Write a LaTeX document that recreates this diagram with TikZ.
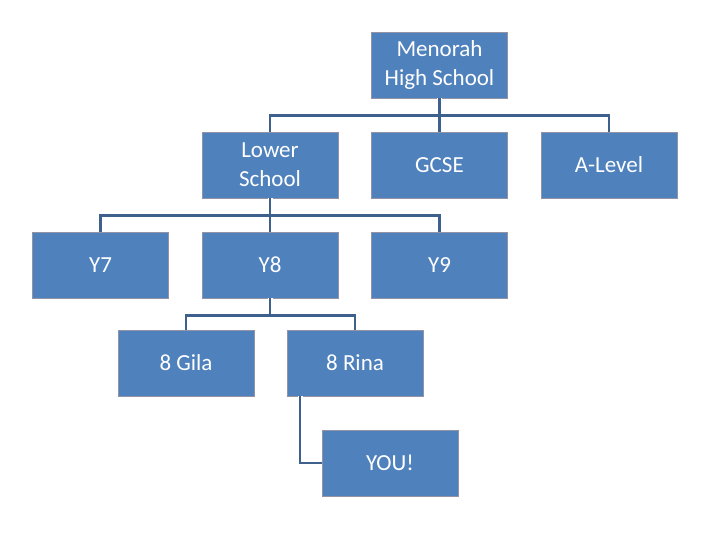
\documentclass[tikz,border=0pt]{standalone}
\usepackage{fontspec}
\setmainfont{Carlito}
\begin{document}
\begin{tikzpicture}[x=1pt,y=-1pt,
  box/.style={draw=white!75!blue!30!gray,line width=0.8pt,fill={rgb,255:red,79;green,129;blue,189},text=white,minimum width=136pt,minimum height=66pt,inner sep=0pt,align=center,font=\fontsize{23}{29}\selectfont},
  halo/.style={draw=white,line width=5pt},
  conn/.style={draw={rgb,255:red,62;green,96;blue,140},line width=2.6pt}]
\useasboundingbox (0,0) rectangle (720,540);
\node[box] (m) at (439.5,65) {Menorah\\High School};
\node[box] (l) at (270,165) {Lower\\School};
\node[box] (g) at (439.5,165) {GCSE};
\node[box] (a) at (609,165) {A-Level};
\node[box] (y7) at (100.5,265) {Y7};
\node[box] (y8) at (270,265) {Y8};
\node[box] (y9) at (439.5,265) {Y9};
\node[box] (gi) at (186,363) {8 Gila};
\node[box] (ri) at (355,363) {8 Rina};
\node[box] (you) at (390,463) {YOU!};
\coordinate (rs) at (300,396);
\foreach \s in {halo,conn}{
  \draw[\s] (m.south) -- ++(0,17) -| (l.north);
  \draw[\s] (m.south) -- ++(0,17) -| (g.north);
  \draw[\s] (m.south) -- ++(0,17) -| (a.north);
  \draw[\s] (l.south) -- ++(0,17) -| (y7.north);
  \draw[\s] (l.south) -- ++(0,17) -| (y8.north);
  \draw[\s] (l.south) -- ++(0,17) -| (y9.north);
  \draw[\s] (y8.south) -- ++(0,17) -| (gi.north);
  \draw[\s] (y8.south) -- ++(0,17) -| (ri.north);
  \draw[\s] (rs) |- (you.west);
}
\end{tikzpicture}
\end{document}
